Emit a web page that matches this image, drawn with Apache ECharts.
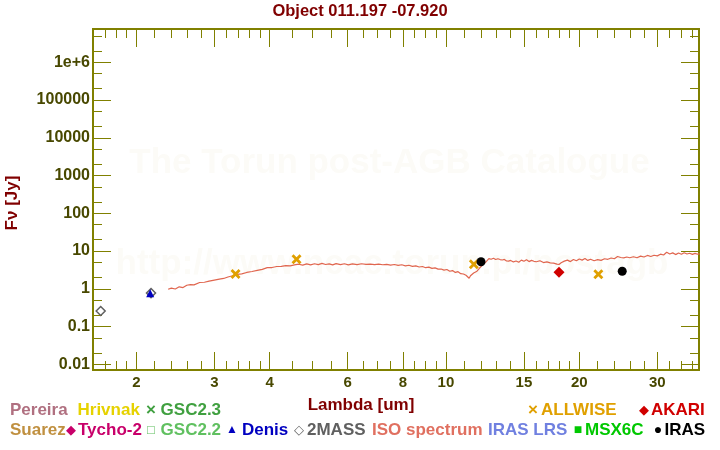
<!DOCTYPE html>
<html><head><meta charset="utf-8">
<script src="https://cdn.jsdelivr.net/npm/echarts@6/dist/echarts.min.js"></script>
<style>html,body{margin:0;padding:0;background:#fff}#c{width:720px;height:450px}</style>
</head><body><div id="c"></div>
<script>
// ---------- data (wavelength in um, flux in Jy) ----------
const isoWave = [2.36,2.40,2.45,2.50,2.55,2.60,2.65,2.70,2.78,2.85,2.92,3.00,3.08,3.15,3.22,3.30,3.38,3.46,3.55,3.65,3.75,3.85,3.95,4.05,4.15,4.25,4.35,4.45,4.55,4.65,4.75,4.85,4.95,5.05,5.15,5.25,5.35,5.45,5.55,5.65,5.78,5.90,6.02,6.15,6.30,6.45,6.60,6.75,6.90,7.05,7.20,7.35,7.50,7.65,7.80,7.95,8.10,8.25,8.40,8.55,8.70,8.85,9.00,9.15,9.30,9.45,9.60,9.75,9.90,10.05,10.20,10.35,10.50,10.65,10.80,10.95,11.10,11.20,11.28,11.36,11.45,11.55,11.65,11.75,11.90,12.00,12.10,12.20,12.30,12.40,12.50,12.65,12.80,12.95,13.10,13.25,13.40,13.55,13.70,13.85,14.00,14.20,14.40,14.60,14.80,15.00,15.20,15.40,15.60,15.80,16.00,16.30,16.60,16.90,17.20,17.50,17.80,18.00,18.20,18.50,18.80,19.10,19.40,19.70,20.00,20.30,20.60,20.90,21.20,21.60,22.00,22.40,22.80,23.20,23.60,24.00,24.40,24.80,25.20,25.60,26.00,26.50,27.00,27.50,28.00,28.50,29.00,29.50,30.00,30.50,31.00,31.50,32.00,32.50,33.00,33.50,34.00,34.50,35.00,35.50,36.00,36.50,37.00,37.40];
const isoFlux = [0.97,1.04,0.99,1.13,1.08,1.24,1.29,1.27,1.47,1.49,1.60,1.70,1.80,1.88,2.05,2.22,2.42,2.48,2.71,2.87,3.08,3.27,3.63,3.66,3.90,3.92,4.10,4.05,4.30,4.48,4.25,4.58,4.30,4.62,4.36,4.70,4.40,4.56,4.30,4.66,4.36,4.60,4.32,4.56,4.36,4.60,4.42,4.52,4.36,4.50,4.34,4.46,4.26,4.40,4.16,4.34,4.06,4.20,3.92,4.04,3.78,3.90,3.62,3.74,3.48,3.58,3.32,3.34,3.12,3.24,2.92,3.04,2.72,2.84,2.52,2.47,2.28,2.05,1.90,2.22,2.33,2.62,2.72,2.92,3.50,3.90,4.30,4.80,5.10,5.60,6.30,6.05,6.45,5.95,6.25,5.95,5.80,6.00,5.45,5.40,5.65,5.15,5.45,5.05,5.75,5.35,5.85,5.25,5.65,5.35,5.20,5.55,4.95,5.15,4.85,4.80,4.50,4.40,4.90,5.40,5.75,5.25,5.95,5.55,6.15,5.75,6.35,5.65,6.05,5.55,5.95,5.65,6.25,6.05,6.55,6.25,7.15,6.75,6.60,6.95,6.65,7.05,6.65,7.35,6.95,7.65,7.15,7.75,7.45,8.25,7.85,9.25,8.35,8.95,8.05,8.85,8.25,9.05,8.35,8.75,8.15,8.65,8.25,8.40];
const allwiseWave = [3.35, 4.6, 11.56, 22.08];
const allwiseFlux = [2.47, 6.04, 4.46, 2.42];
const irasWave = [12, 25];
const irasFlux = [5.22, 2.91];
const akariWave = [18];
const akariFlux = [2.74];
const twomassWave = [1.662, 2.159];
const twomassFlux = [0.258, 0.77];
const denisWave = [2.15];
const denisFlux = [0.76];

const xTickValues = [2,3,4,6,8,10,15,20,30];
const xTickLabels = ['2','3','4','6','8','10','15','20','30'];
const xMinorValues = [1.7,1.8,1.9,2.2,2.4,2.6,2.8,3.2,3.4,3.6,3.8,4.5,5,5.5,6.5,7,7.5,8.5,9,9.5,11,12,13,14,16,17,18,19,22,24,26,28,32,34,36];
const yTickValues = [0.01,0.1,1,10,100,1000,10000,100000,1000000];
const yTickLabels = ['0.01','0.1','1','10','100','1000','10000','100000','1e+6'];
const yMinorValues = [0.02,0.05,0.2,0.5,2,5,20,50,200,500,2000,5000,20000,50000,200000,500000,2000000,5000000];

// ---------- helpers ----------
const L = Math.log10;
const pairs = (w, f) => w.map((v, i) => [L(v), L(f[i])]);
const FONT = '"Liberation Sans", Arial, "DejaVu Sans", sans-serif';
const AX = '#808000';
const LAB = '#484800';
const xMin = 0.20329, xMax = 1.57123;
const yMin = -2.151, yMax = 6.882;

function nearestLabel(v, vals, labs) {
  let bi = 0, bd = 1e9;
  vals.forEach((t, i) => { const d = Math.abs(L(t) - v); if (d < bd) { bd = d; bi = i; } });
  return labs[bi];
}
function makeAxis(kind, pos, tickVals, len, withLabels) {
  const a = {
    type: 'value', min: kind === 'x' ? xMin : yMin, max: kind === 'x' ? xMax : yMax,
    position: pos, splitLine: { show: false },
    axisLine: { show: true, onZero: false, lineStyle: { color: AX, width: 2 } },
    axisTick: { show: true, inside: true, length: len, customValues: tickVals.map(L), lineStyle: { color: AX, width: 1 } },
    axisLabel: { show: false }
  };
  if (withLabels) {
    const vals = kind === 'x' ? xTickValues : yTickValues;
    const labs = kind === 'x' ? xTickLabels : yTickLabels;
    a.axisLabel = {
      show: true, customValues: vals.map(L), color: LAB, fontWeight: 'bold',
      fontSize: kind === 'x' ? 15 : 16, fontFamily: FONT, margin: kind === 'x' ? 5 : 3,
      formatter: v => nearestLabel(v, vals, labs)
    };
  }
  return a;
}
function txt(x, y, s, color, size, align, extra) {
  return Object.assign({
    type: 'text', x: x, y: y, z: 10,
    style: { text: s, fill: color, font: 'bold ' + size + 'px ' + FONT,
      textAlign: align || 'left', textVerticalAlign: 'middle', align: align || 'left', verticalAlign: 'middle' }
  }, extra || {});
}

const legendRow1 = [
  [10, 'Pereira', '#b07080'], [77.5, 'Hrivnak', '#e6d200'], [160.6, 'GSC2.3', '#40a040'],
  [541, 'ALLWISE', '#e0a000'], [651, 'AKARI', '#d00000']
];
const legendRow2 = [
  [10, 'Suarez', '#c09040'], [78, 'Tycho-2', '#c8006a'], [160.6, 'GSC2.2', '#60c060'],
  [242, 'Denis', '#0000c0'], [307, '2MASS', '#606060'], [372, 'ISO spectrum', '#e07060'],
  [488, 'IRAS LRS', '#7080e0'], [585, 'MSX6C', '#00c800'], [664.5, 'IRAS', '#000000']
];
const legendGlyphs = [
  [151, 410, '×', '#40a040', 17], [533, 410, '×', '#e0a000', 17], [644, 410, '◆', '#d00000', 13],
  [71, 430, '◆', '#c8006a', 13], [151, 430, '□', '#60c060', 13], [232, 430, '▲', '#0000c0', 12],
  [299, 430, '◇', '#606060', 13], [578, 430, '■', '#00c800', 14], [658, 430, '●', '#000000', 14]
];

const graphics = [
  { type: 'text', x: 389.5, y: 163, z: 0, style: { text: 'The Torun post-AGB Catalogue', fill: '#fcfbf7', font: 'bold 35px ' + FONT, textAlign: 'center', textVerticalAlign: 'middle', align: 'center', verticalAlign: 'middle' } },
  { type: 'text', x: 392, y: 264, z: 0, style: { text: 'http://www.ncac.torun.pl/postagb', fill: '#fcfbf7', font: 'bold 35px ' + FONT, textAlign: 'center', textVerticalAlign: 'middle', align: 'center', verticalAlign: 'middle' } },
  txt(360, 11.5, 'Object 011.197 -07.920', '#800000', 16.5, 'center'),
  txt(361, 405, 'Lambda [um]', '#800000', 17, 'center'),
  txt(12, 203, 'Fν [Jy]', '#800000', 17, 'center', { rotation: Math.PI / 2 })
];
legendRow1.forEach(r => graphics.push(txt(r[0], 410, r[1], r[2], 17, 'left')));
legendRow2.forEach(r => graphics.push(txt(r[0], 430, r[1], r[2], 17, 'left')));
legendGlyphs.forEach(g => graphics.push(txt(g[0], g[1], g[2], g[3], g[4], 'center')));

const xPath = 'path://M0,2L2,0L5,3L8,0L10,2L7,5L10,8L8,10L5,7L2,10L0,8L3,5Z';
const solid = c => ({ color: c, opacity: 1 });

const chart = echarts.init(document.getElementById('c'), null, { renderer: 'canvas' });
chart.setOption({
  animation: false,
  backgroundColor: '#ffffff',
  grid: { left: 93, top: 29, width: 606, height: 341, containLabel: false },
  xAxis: [
    makeAxis('x', 'bottom', xTickValues, 18, true),
    makeAxis('x', 'bottom', xMinorValues, 9, false),
    makeAxis('x', 'top', xTickValues, 18, false),
    makeAxis('x', 'top', xMinorValues, 9, false)
  ],
  yAxis: [
    makeAxis('y', 'left', yTickValues, 18, true),
    makeAxis('y', 'left', yMinorValues, 9, false),
    makeAxis('y', 'right', yTickValues, 18, false),
    makeAxis('y', 'right', yMinorValues, 9, false)
  ],
  graphic: graphics,
  series: [
    { name: 'ISO spectrum', type: 'line', data: pairs(isoWave, isoFlux), showSymbol: false, symbol: 'none',
      lineStyle: { color: '#e0664f', width: 1.2 }, z: 2 },
    { name: '2MASS', type: 'scatter', data: pairs(twomassWave, twomassFlux), symbol: 'diamond', symbolSize: 9,
      itemStyle: { color: '#ffffff', borderColor: '#606060', borderWidth: 1.5, opacity: 1 }, z: 3 },
    { name: 'Denis', type: 'scatter', data: pairs(denisWave, denisFlux), symbol: 'triangle', symbolSize: 8,
      itemStyle: solid('#0000c0'), z: 4 },
    { name: 'ALLWISE', type: 'scatter', data: pairs(allwiseWave, allwiseFlux), symbol: xPath, symbolSize: 10,
      itemStyle: solid('#e0a000'), z: 4 },
    { name: 'AKARI', type: 'scatter', data: pairs(akariWave, akariFlux), symbol: 'diamond', symbolSize: 11,
      itemStyle: solid('#d00000'), z: 4 },
    { name: 'IRAS', type: 'scatter', data: pairs(irasWave, irasFlux), symbol: 'circle', symbolSize: 9,
      itemStyle: solid('#000000'), z: 5 }
  ]
});
</script></body></html>
